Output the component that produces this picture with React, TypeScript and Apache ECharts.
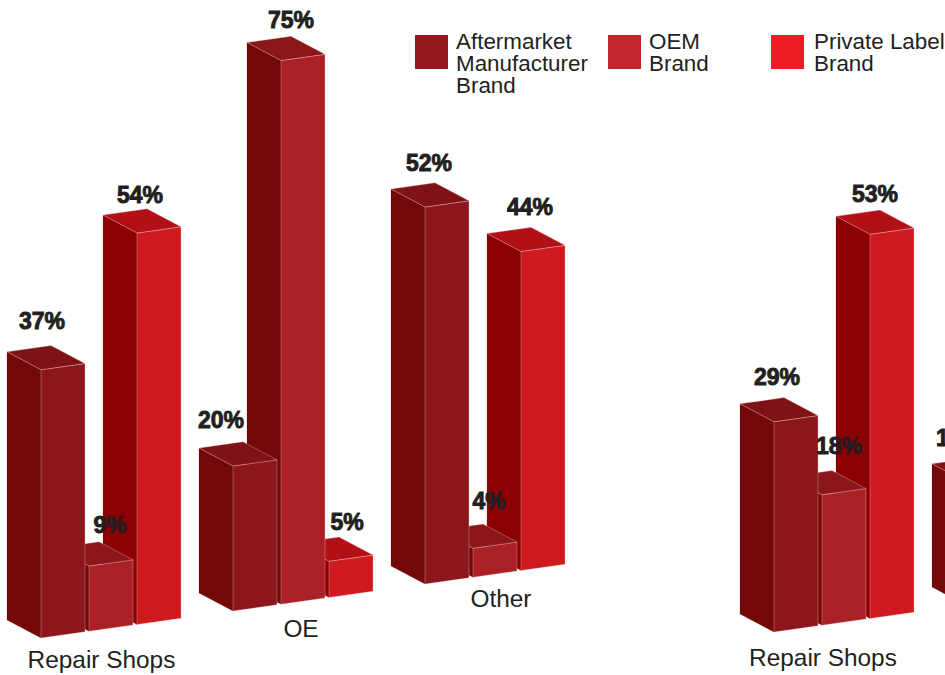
import React, { useEffect, useRef } from "react";
import * as echarts from "echarts";

const brands = ["Aftermarket Manufacturer Brand", "OEM Brand", "Private Label Brand"];
const legendLines = [" \nAftermarket\nManufacturer\nBrand", "OEM\nBrand", "Private Label\nBrand"];
const categoriesA = ["Repair Shops", "OE", "Other"];
const categoriesB = ["Repair Shops", "OE"];

const aftermarketA = [37, 20, 52];
const oemA = [9, 75, 4];
const privateA = [54, 5, 44];
const aftermarketB = [29, 17];
const oemB = [18];
const privateB = [53];

// look only
const legendColors = ["#921a1e", "#c1272d", "#ed1c24"];
const sideColors = ["#720808", "#720808", "#8c0004"];
const frontColors = ["#8b161b", "#a92025", "#cf1a20"];
const topColors = ["#7f1216", "#8a161a", "#b11116"];
const INK = "#231f20";
const EDGE = "rgba(255,205,205,0.55)";
const SLOT = 48;
const BAR_W = 44;
const DEPTH_X = 34;
const DEPTH_Y = 18;
const SLOPE = 27 / 192;
const SKEW_ORIGIN = 26;

// label placement relative to a bar's front-top corner, per [category][brand]
const labelNudgeA = [
  [[1, -49], [21, -41], [3, -38]],
  [[-12, -46], [10, -41], [18, -39]],
  [[4, -44], [16, -47], [9, -45]],
];
const labelNudgeB = [
  [[3, -45], [17, -49], [5, -40]],
  [[-7, -44]],
];
const categoryNudgeA = [[-9.5, 28], [-2, 24], [6, 21]];
const categoryNudgeB = [[-21, 32]];

function corner(api: any, params: any, cat: number, brand: number, value: number) {
  const top = api.coord([cat, value]);
  const base = api.coord([cat, 0]);
  const x = top[0] + (brand - 1) * SLOT - BAR_W / 2;
  const skew = SLOPE * (x - params.coordSys.x - SKEW_ORIGIN);
  return { x, top: top[1] - skew, bottom: base[1] - skew };
}

const renderBar = (brand: number) => (params: any, api: any) => {
  const { x, top, bottom } = corner(api, params, api.value(0), brand, api.value(1));
  const dy = SLOPE * BAR_W;
  const poly = (points: number[][], fill: string, stroke?: string) => ({
    type: "polygon",
    shape: { points },
    style: { fill, stroke: stroke || fill, lineWidth: stroke ? 0.6 : 0.2 },
  });
  return {
    type: "group",
    children: [
      poly([[x - DEPTH_X, top - DEPTH_Y], [x, top], [x, bottom], [x - DEPTH_X, bottom - DEPTH_Y]], sideColors[brand]),
      poly([[x, top], [x + BAR_W, top - dy], [x + BAR_W, bottom - dy], [x, bottom]], frontColors[brand], EDGE),
      poly(
        [[x - DEPTH_X, top - DEPTH_Y], [x - DEPTH_X + BAR_W, top - DEPTH_Y - dy], [x + BAR_W, top - dy], [x, top]],
        topColors[brand],
        EDGE
      ),
    ],
  };
};

const renderValueLabel = (nudge: number[][][]) => (params: any, api: any) => {
  const cat = api.value(0);
  const brand = api.value(2);
  const value = api.value(1);
  const { x, top } = corner(api, params, cat, brand, value);
  const [dx, dy] = nudge[cat][brand];
  return {
    type: "text",
    style: {
      text: value + "%",
      x: x + dx,
      y: top + dy,
      align: "center",
      verticalAlign: "middle",
      font: 'bold 23px "Liberation Sans"',
      fill: INK,
      stroke: INK,
      lineWidth: 0.9,
    },
  };
};

const renderCategoryLabel = (names: string[], nudge: number[][]) => (params: any, api: any) => {
  const cat = api.value(0);
  const { x, bottom } = corner(api, params, cat, 1, 0);
  const [dx, dy] = nudge[cat];
  return {
    type: "text",
    style: {
      text: names[cat],
      x: x + BAR_W / 2 + dx,
      y: bottom + dy,
      align: "center",
      verticalAlign: "middle",
      font: '24.4px "Liberation Sans"',
      fill: INK,
    },
  };
};

function panelSeries(
  index: number,
  values: number[][],
  names: string[],
  labelNudge: number[][][],
  categoryNudge: number[][]
) {
  const axes = { coordinateSystem: "cartesian2d", xAxisIndex: index, yAxisIndex: index, silent: true };
  const bars = values.map((vals, brand) => ({
    ...axes,
    type: "custom",
    name: brands[brand],
    z: 5 - brand,
    itemStyle: { color: legendColors[brand] },
    encode: { x: 0, y: 1 },
    renderItem: renderBar(brand),
    data: vals.map((v, cat) => [cat, v]),
  }));
  const labelData: number[][] = [];
  values.forEach((vals, brand) => vals.forEach((v, cat) => labelData.push([cat, v, brand])));
  return [
    ...bars,
    {
      ...axes,
      type: "custom",
      name: "values",
      z: 10,
      encode: { x: 0, y: 1 },
      renderItem: renderValueLabel(labelNudge),
      data: labelData,
    },
    {
      ...axes,
      type: "custom",
      name: "categories",
      z: 10,
      encode: { x: 0, y: 1 },
      renderItem: renderCategoryLabel(names, categoryNudge),
      data: categoryNudge.map((_, cat) => [cat, 0]),
    },
  ];
}

const legendAt = (brand: number, left: number, top: number, gap: number) => ({
  left,
  top,
  padding: 0,
  selectedMode: false,
  icon: "rect",
  itemWidth: 33,
  itemHeight: 34,
  data: [brands[brand]],
  formatter: () => legendLines[brand],
  textStyle: {
    color: INK,
    fontFamily: "Liberation Sans",
    fontSize: 22.4,
    lineHeight: 22,
    padding: [0, 0, 0, gap],
  },
});

export default function App() {
  const ref = useRef<HTMLDivElement>(null);
  useEffect(() => {
    const chart = echarts.init(ref.current!, undefined, { renderer: "svg" });
    chart.setOption({
      animation: false,
      backgroundColor: "#ffffff",
      legend: [legendAt(0, 415, 8, 3), legendAt(1, 608, 30, 3), legendAt(2, 771, 30, 5)],
      grid: [
        { left: 15, width: 576, top: 58, height: 580 },
        { left: 748, width: 384, top: 52, height: 580 },
      ],
      xAxis: [
        { type: "category", gridIndex: 0, data: categoriesA, show: false },
        { type: "category", gridIndex: 1, data: categoriesB, show: false },
      ],
      yAxis: [
        { type: "value", gridIndex: 0, min: 0, max: 80, show: false },
        { type: "value", gridIndex: 1, min: 0, max: 80, show: false },
      ],
      series: [
        ...panelSeries(0, [aftermarketA, oemA, privateA], categoriesA, labelNudgeA, categoryNudgeA),
        ...panelSeries(1, [aftermarketB, oemB, privateB], categoriesB, labelNudgeB, categoryNudgeB),
      ],
    });
    return () => chart.dispose();
  }, []);
  return (
    <div style={{ position: "fixed", left: 0, top: 0, width: 945, height: 675, overflow: "hidden", background: "#fff" }}>
      <div ref={ref} style={{ width: 1140, height: 675 }} />
    </div>
  );
}
